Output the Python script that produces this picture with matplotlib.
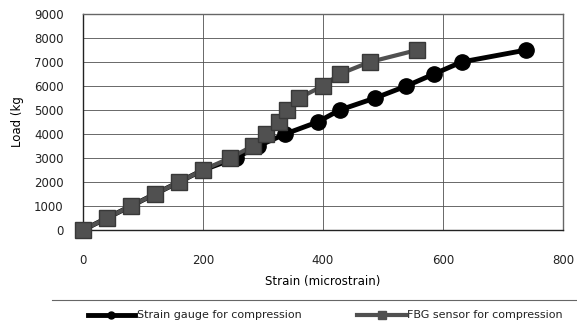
import matplotlib
matplotlib.use("Agg")
import matplotlib.pyplot as plt
from matplotlib.lines import Line2D

plt.rcParams['font.family'] = ['DejaVu Sans']

loads = [0, 500, 1000, 1500, 2000, 2500, 3000, 3500, 4000, 4500, 5000, 5500, 6000, 6500, 7000, 7500]
gauge_strain = [0, 40, 80, 120, 160, 200, 255, 292, 337, 391, 428, 487, 539, 585, 631, 739]
fbg_strain = [0, 40, 80, 120, 160, 200, 245, 283, 305, 327, 340, 360, 400, 428, 478, 557]

x_ticks = [0, 200, 400, 600, 800]
y_ticks = [0, 1000, 2000, 3000, 4000, 5000, 6000, 7000, 8000, 9000]
labels = ['Strain gauge for compression', 'FBG sensor for compression']

fig = plt.figure(figsize=(5.77, 3.30), dpi=100)
W, H = 577, 330
ax = fig.add_axes([83 / W, 1 - 230 / H, (563 - 83) / W, (230 - 14) / H])

ax.plot(gauge_strain, loads, color='black', lw=3.5, marker='o', markersize=11,
        label=labels[0], zorder=3, clip_on=False)
ax.plot(fbg_strain, loads, color='#505050', lw=3, marker='s', markersize=12,
        markerfacecolor='#505050', markeredgecolor='#383838',
        label=labels[1], zorder=4, clip_on=False)

ax.set_xlim(0, 800)
ax.set_ylim(0, 9000)
ax.set_xticks(x_ticks)
ax.set_yticks(y_ticks)
ax.tick_params(length=0, labelsize=8.5, colors='#222222')
ax.tick_params(axis='y', pad=14)
ax.tick_params(axis='x', pad=17)
ax.grid(True, color='#505050', lw=0.6)
ax.set_axisbelow(True)
for s in ax.spines.values():
    s.set_color('#666666')
    s.set_linewidth(1.0)
ax.spines['left'].set_color('#222222')
ax.spines['bottom'].set_color('#222222')

ax.set_xlabel('Strain (microstrain)', fontsize=8.5, labelpad=6)
ax.set_ylabel('Load (kg', fontsize=8.5)
ax.yaxis.set_label_coords(-(83 - 24) / 480, 0.5)

# legend separator line
fig.add_artist(Line2D([52 / W, 1.0], [1 - 300 / H, 1 - 300 / H], color='#666666', lw=0.8))

ly = 1 - 315 / H
fig.add_artist(Line2D([88 / W, 135 / W], [ly, ly], color='black', lw=3.5))
fig.add_artist(Line2D([111 / W], [ly], color='black', marker='o', markersize=5))
fig.text(137 / W, ly, labels[0], fontsize=8, va='center', ha='left', color='#222222')
fig.add_artist(Line2D([357 / W, 406 / W], [ly, ly], color='#505050', lw=3))
fig.add_artist(Line2D([382 / W], [ly], color='#505050', marker='s', markersize=6))
fig.text(407 / W, ly, labels[1], fontsize=8, va='center', ha='left', color='#222222')

fig.savefig('out.png', dpi=100)
